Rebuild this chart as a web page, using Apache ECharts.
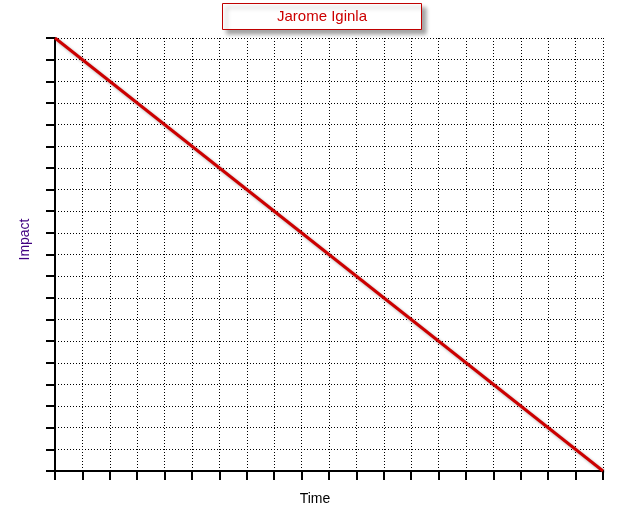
<!DOCTYPE html>
<html><head><meta charset="utf-8">
<script src="https://cdn.jsdelivr.net/npm/echarts@6/dist/echarts.min.js"></script>
<style>html,body{margin:0;padding:0;background:#fff}#c{width:623px;height:516px}</style>
</head><body><div id="c"></div>
<script>
const seriesName = "Jarome Iginla";
const timeValues = [0, 20];
const impactValues = [20, 0];
const xRange = [0, 20];
const yRange = [0, 20];

const chart = echarts.init(document.getElementById('c'), null, {renderer: 'canvas'});
const axisCommon = {
  type: 'value',
  interval: 1,
  axisLine: {show: true, lineStyle: {color: '#000', width: 2}},
  axisTick: {show: true, inside: false, length: 9, lineStyle: {color: '#000', width: 2}},
  axisLabel: {show: false},
  splitLine: {show: true, lineStyle: {color: '#000', width: 1, type: [1, 2]}},
  nameLocation: 'middle'
};
chart.setOption({
  animation: false,
  title: {
    text: seriesName,
    left: 222, top: 3,
    padding: [6, 55, 6, 55],
    backgroundColor: '#fff',
    borderColor: '#c00000', borderWidth: 1,
    shadowColor: 'rgba(0,0,0,0.35)', shadowBlur: 4, shadowOffsetX: 4, shadowOffsetY: 4,
    textStyle: {color: '#cc0000', fontFamily: 'Liberation Sans', fontSize: 15, lineHeight: 15, fontWeight: 'normal'}
  },
  grid: {left: 55, top: 38, right: 20, bottom: 45, containLabel: false},
  xAxis: Object.assign({}, axisCommon, {min: xRange[0], max: xRange[1], name: 'Time', nameGap: 21,
    nameTextStyle: {fontFamily: 'Liberation Sans', fontSize: 14, color: '#000', padding: [0, 28, 0, 0]}}),
  yAxis: Object.assign({}, axisCommon, {min: yRange[0], max: yRange[1], name: 'Impact', nameGap: 23,
    nameTextStyle: {fontFamily: 'Liberation Sans', fontSize: 14, color: '#400080', padding: [0, 0, 0, 30]}}),
  series: [{
    name: seriesName,
    type: 'line',
    data: timeValues.map((t, i) => [t, impactValues[i]]),
    symbol: 'none',
    lineStyle: {color: '#cc0000', width: 3, shadowColor: 'rgba(0,0,0,0.3)', shadowBlur: 3, shadowOffsetX: 2, shadowOffsetY: 2}
  }]
});
</script></body></html>
